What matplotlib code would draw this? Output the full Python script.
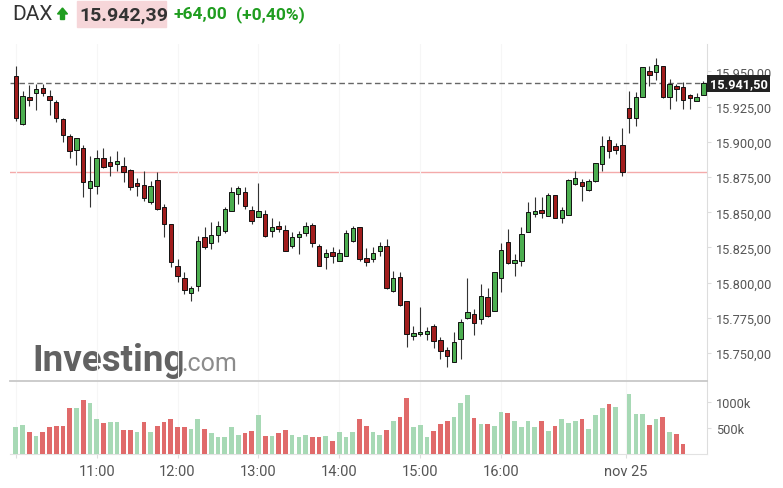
import numpy as np
import matplotlib
matplotlib.use("Agg")
import matplotlib.pyplot as plt
from matplotlib.patches import Rectangle, Polygon

plt.rcParams['font.family'] = ['Roboto', 'DejaVu Sans']

# ── Data: DAX 5-minute candles ────────────────────────────────────────────────
opens = [15946.6, 15912.7, 15931.7, 15934.9, 15938.5, 15932.4, 15928.1, 15916.3, 15904.4, 15894.0,
         15895.5, 15867.3, 15868.9, 15888.8, 15885.5, 15884.1, 15882.7, 15879.8, 15870.8, 15869.4,
         15857.5, 15873.2, 15853.6, 15841.7, 15812.1, 15803.1, 15792.7, 15797.9, 15832.2, 15828.2,
         15833.9, 15836.5, 15851.1, 15863.0, 15864.2, 15851.6, 15846.9, 15848.8, 15836.5, 15840.1,
         15837.4, 15826.3, 15832.7, 15835.3, 15841.0, 15826.3, 15818.5, 15821.6, 15815.6, 15819.2,
         15829.8, 15839.3, 15817.3, 15816.8, 15822.7, 15826.3, 15794.3, 15803.8, 15787.2, 15762.5,
         15763.5, 15763.4, 15769.5, 15759.5, 15752.4, 15743.9, 15760.0, 15774.7, 15777.8, 15774.2,
         15789.6, 15780.1, 15803.3, 15828.7, 15814.0, 15815.6, 15835.8, 15848.8, 15851.9, 15847.6,
         15862.3, 15846.0, 15848.1, 15870.1, 15871.3, 15866.1, 15872.4, 15884.3, 15901.1, 15896.9,
         15898.0, 15923.9, 15917.0, 15932.1, 15950.1, 15949.4, 15953.7, 15932.1, 15939.9, 15938.8,
         15933.3, 15929.3, 15933.3]
highs = [15953.7, 15936.4, 15940.4, 15941.1, 15940.9, 15936.9, 15929.5, 15916.8, 15905.4, 15903.0,
         15897.8, 15890.2, 15894.5, 15895.5, 15889.8, 15893.5, 15889.1, 15880.8, 15874.2, 15879.3,
         15872.4, 15878.4, 15855.9, 15841.7, 15816.8, 15807.4, 15797.9, 15833.4, 15839.3, 15842.9,
         15844.0, 15853.8, 15867.8, 15868.5, 15867.8, 15854.7, 15870.6, 15851.6, 15845.7, 15844.0,
         15841.2, 15835.8, 15836.9, 15842.9, 15842.2, 15827.5, 15823.9, 15825.6, 15823.9, 15837.4,
         15840.5, 15839.5, 15824.6, 15825.1, 15829.1, 15831.0, 15808.5, 15807.8, 15787.2, 15769.5,
         15783.0, 15768.8, 15770.7, 15761.2, 15754.1, 15765.2, 15774.2, 15803.1, 15781.3, 15799.1,
         15796.0, 15807.5, 15828.0, 15838.1, 15820.4, 15839.3, 15857.5, 15860.7, 15861.1, 15863.7,
         15862.5, 15853.6, 15873.4, 15879.6, 15873.7, 15873.7, 15885.0, 15904.4, 15904.4, 15899.0,
         15909.9, 15935.9, 15935.2, 15953.2, 15954.1, 15959.6, 15954.0, 15944.7, 15941.1, 15942.3,
         15934.0, 15934.5, 15943.0]
lows = [15915.1, 15912.2, 15925.7, 15922.9, 15932.8, 15919.3, 15913.9, 15899.7, 15888.8, 15883.6,
        15860.7, 15853.6, 15863.0, 15881.5, 15875.6, 15879.6, 15871.7, 15866.0, 15861.8, 15858.2,
        15855.9, 15851.8, 15832.2, 15811.4, 15800.3, 15792.0, 15787.2, 15794.3, 15823.9, 15823.9,
        15828.7, 15835.3, 15850.9, 15855.9, 15852.3, 15841.7, 15846.5, 15832.2, 15832.2, 15835.8,
        15822.5, 15824.6, 15820.4, 15833.0, 15825.1, 15811.9, 15809.7, 15813.8, 15815.4, 15819.0,
        15828.7, 15815.6, 15812.1, 15814.5, 15819.2, 15795.5, 15793.2, 15783.8, 15754.1, 15759.5,
        15762.4, 15759.3, 15753.4, 15745.8, 15739.9, 15743.7, 15745.8, 15774.2, 15762.9, 15770.7,
        15775.4, 15780.0, 15793.2, 15813.3, 15805.0, 15812.1, 15835.7, 15846.5, 15845.7, 15847.4,
        15846.0, 15842.2, 15848.0, 15869.4, 15858.2, 15865.3, 15871.3, 15879.6, 15888.4, 15891.4,
        15876.0, 15906.1, 15911.5, 15932.0, 15939.9, 15944.0, 15931.0, 15923.4, 15929.3, 15923.4,
        15923.4, 15928.8, 15933.0]
closes = [15916.8, 15932.4, 15929.5, 15937.8, 15934.9, 15929.5, 15917.2, 15904.9, 15893.3, 15902.6,
          15871.5, 15872.5, 15888.4, 15882.4, 15883.1, 15886.2, 15878.8, 15868.3, 15868.5, 15860.0,
          15868.5, 15852.3, 15841.7, 15814.9, 15805.0, 15795.0, 15796.2, 15829.8, 15825.1, 15833.9,
          15840.1, 15852.3, 15864.2, 15867.3, 15854.7, 15844.0, 15850.7, 15833.4, 15839.3, 15837.9,
          15822.7, 15832.2, 15834.6, 15840.1, 15828.0, 15812.1, 15820.9, 15819.2, 15820.9, 15835.1,
          15838.9, 15816.8, 15814.9, 15820.9, 15826.3, 15796.0, 15803.1, 15784.2, 15763.6, 15764.5,
          15765.0, 15765.7, 15758.8, 15751.7, 15748.2, 15757.7, 15771.9, 15779.0, 15771.2, 15790.3,
          15776.1, 15807.4, 15823.2, 15814.0, 15816.1, 15834.6, 15850.0, 15850.7, 15849.5, 15862.3,
          15846.0, 15851.9, 15873.2, 15874.6, 15868.5, 15872.0, 15884.8, 15897.1, 15893.5, 15894.5,
          15878.4, 15917.0, 15931.7, 15953.0, 15947.7, 15954.6, 15931.7, 15941.1, 15937.6, 15929.8,
          15931.2, 15932.1, 15941.5]
volume_k = [520, 572, 429, 345, 429, 520, 546, 546, 884, 884,
            1040, 982, 670, 598, 618, 618, 475, 475, 429, 618,
            429, 546, 618, 670, 520, 520, 494, 670, 494, 403,
            325, 325, 520, 377, 403, 449, 748, 358, 358, 403,
            475, 377, 325, 377, 325, 325, 358, 260, 429, 325,
            429, 670, 546, 429, 377, 475, 637, 715, 1079, 520,
            572, 325, 442, 592, 644, 715, 982, 1138, 689, 592,
            592, 553, 813, 787, 644, 520, 644, 520, 644, 449,
            546, 683, 611, 644, 670, 494, 748, 884, 962, 904,
            np.nan, 1157, 767, 767, 572, 670, 715, 423, 397, 202,
            np.nan, np.nan, np.nan]

last_price = 15941.50
prev_close = 15878.39

hour_pos    = [0, 12, 24, 36, 48, 60, 72, 90.5]
hour_labels = ["", "11:00", "12:00", "13:00", "14:00", "15:00", "16:00", "nov 25"]
price_ticks = [15750, 15775, 15800, 15825, 15850, 15875, 15900, 15925, 15950]
vol_ticks   = [500, 1000]
vol_labels  = ["500k", "1000k"]

# ── Style ─────────────────────────────────────────────────────────────────────
UP, DOWN = "#4cae50", "#a11d1d"
VOL_UP, VOL_DOWN = "#a7d9b5", "#e06a6a"
TXT = "#555555"
GREEN_TXT = "#1f9d1f"
W, H = 783, 489


def px(x, y):
    return x / W, 1 - y / H


def eu(v):
    s = f"{v:,.2f}"
    return s.replace(",", "X").replace(".", ",").replace("X", ".")


o, h, l, c = map(np.array, (opens, highs, lows, closes))
vol = np.array(volume_k, dtype=float)
idx = np.arange(len(o))
up = c >= o
vol_up = np.concatenate([[True], c[1:] >= c[:-1]])

fig = plt.figure(figsize=(W / 100, H / 100), dpi=100)
fig.patch.set_facecolor("white")

ax = fig.add_axes([10 / W, 1 - 381 / H, 697 / W, 336 / H])
axv = fig.add_axes([10 / W, 1 - 455.3 / H, 697 / W, 73.3 / H], sharex=ax)

# ── Price panel ───────────────────────────────────────────────────────────────
ax.vlines(idx, l, h, color="#333333", lw=0.8, zorder=3)
body_h = np.maximum(np.abs(c - o), 1.2)
ax.bar(idx, body_h, bottom=np.minimum(o, c), width=0.66,
       color=np.where(up, UP, DOWN), edgecolor="#111111", linewidth=0.7, zorder=4)

ax.axhline(prev_close, color="#f4aaaa", lw=1.0, zorder=1)
ax.axhline(last_price, color="#666666", lw=1.0, ls=(0, (4, 2.4)), zorder=2)

ax.set_xlim((10 - 15.8) / 6.74, (707 - 15.8) / 6.74)
ax.set_ylim(15730.9, 15969.5)
ax.yaxis.tick_right()
ax.set_yticks(price_ticks)
ax.set_yticklabels([eu(t) for t in price_ticks])
ax.tick_params(axis="y", length=3, color="#dddddd", labelcolor=TXT, labelsize=9.2, pad=3.5)
ax.set_xticks(hour_pos)
ax.tick_params(axis="x", length=0, labelbottom=False)
ax.grid(axis="x", color="#f6f6f6", lw=0.8, zorder=0)
ax.spines[["top", "left", "bottom"]].set_visible(False)
ax.spines["right"].set_color("#dddddd")

# last-price tag sits over the axis, partly covering the 15.950 label as in the source
ax.text(1.004, last_price, eu(last_price), transform=ax.get_yaxis_transform(),
        ha="left", va="center", color="white", fontsize=9.2, fontweight="bold",
        bbox=dict(boxstyle="square,pad=0.18", fc="#222222", ec="none"),
        clip_on=False, zorder=10)

# watermark behind the candles
ax.text(*px(32, 371), "Investing", transform=fig.transFigure, fontsize=26.5,
        fontweight="bold", color="#626262", va="baseline", ha="left", zorder=0)
ax.text(*px(181, 371), ".com", transform=fig.transFigure, fontsize=18,
        color="#8c8c8c", va="baseline", ha="left", zorder=0)

# ── Volume panel ──────────────────────────────────────────────────────────────
ok = ~np.isnan(vol)
axv.bar(idx[ok], vol[ok], width=0.7,
        color=np.where(vol_up[ok], VOL_UP, VOL_DOWN), zorder=3)
axv.set_ylim(0, 1410)
axv.yaxis.tick_right()
axv.set_yticks(vol_ticks)
axv.set_yticklabels(vol_labels)
axv.tick_params(axis="y", length=3, color="#dddddd", labelcolor=TXT, labelsize=9.2, pad=3.5)
axv.set_xticks(hour_pos)
axv.set_xticklabels(hour_labels)
axv.tick_params(axis="x", length=3, color="#dddddd", labelcolor=TXT, labelsize=10.5, pad=4)
axv.grid(axis="x", color="#f6f6f6", lw=0.8, zorder=0)
axv.spines["left"].set_visible(False)
axv.spines["top"].set_color("#c8c8c8")
axv.spines["top"].set_linewidth(1.3)
axv.spines["right"].set_color("#dddddd")
axv.spines["bottom"].set_color("#e2e2e2")

# ── Header ────────────────────────────────────────────────────────────────────
yc = 1 - 15 / H
fig.text(12 / W, yc, "DAX", fontsize=15, color="#333333", va="center", ha="left")
fig.add_artist(Polygon([px(57.5, 15), px(62.5, 9), px(67.5, 15), px(64.5, 15),
                        px(64.5, 20.5), px(60.5, 20.5), px(60.5, 15)],
                       closed=True, transform=fig.transFigure, color=GREEN_TXT))
fig.add_artist(Rectangle(px(77, 28), 89 / W, 26 / H, transform=fig.transFigure,
                         color="#f6d6d9", zorder=0))
fig.text(79 / W, yc, "15.942,39", fontsize=14, fontweight="bold", color="#333333",
         va="center", ha="left")
fig.text(174 / W, yc, "+64,00", fontsize=12.5, fontweight="bold", color=GREEN_TXT,
         va="center", ha="left")
fig.text(236 / W, yc, "(+0,40%)", fontsize=12.5, fontweight="bold", color=GREEN_TXT,
         va="center", ha="left")

fig.savefig("out.png", dpi=100)
